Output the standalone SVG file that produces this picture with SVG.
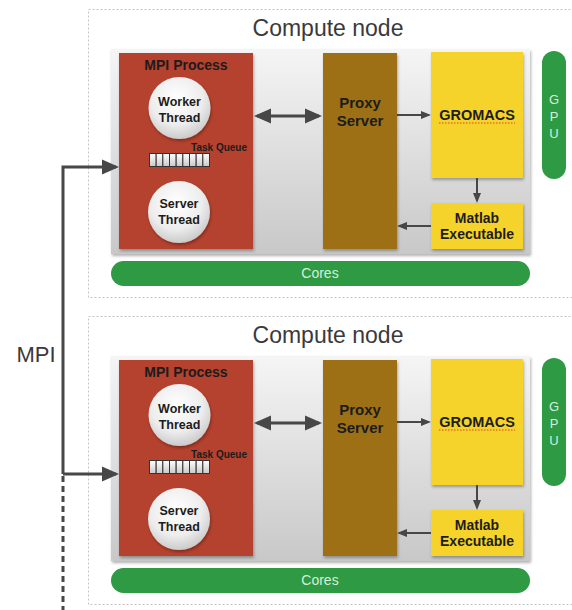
<svg xmlns="http://www.w3.org/2000/svg" width="572" height="610" viewBox="0 0 572 610">
<style>
.frame{fill:#fff;stroke:#c4c4c4;stroke-width:1;stroke-dasharray:2 2}
.title{font-family:"Liberation Sans",Arial,sans-serif;font-size:23px;fill:#3a3a3a;text-anchor:middle}
.panel{fill:url(#panelGrad);filter:url(#sh)}
.mpi{fill:#b5432f;filter:url(#sh)}
.proxy{fill:#9d6f14;filter:url(#sh)}
.yellow{fill:#f6d32b;filter:url(#sh)}
.green{fill:#2e9a44}
.lbl{font-family:"Liberation Sans",Arial,sans-serif;font-weight:bold;fill:#1c1c1c;text-anchor:middle}
.circ{fill:url(#ballGrad);filter:url(#sh)}
.light{font-family:"Liberation Sans",Arial,sans-serif;fill:#d6eedb;text-anchor:middle}
.cell{fill:url(#cellGrad);stroke:#333;stroke-width:1}
.conn{stroke:#474747;fill:none}
.big{stroke-width:3}
.small{stroke-width:2}
</style>
<defs>
<linearGradient id="panelGrad" x1="0" y1="0" x2="0" y2="1">
<stop offset="0" stop-color="#f5f5f5"/>
<stop offset="1" stop-color="#c8c8c8"/>
</linearGradient>
<radialGradient id="ballGrad" cx="0.45" cy="0.35" r="0.7">
<stop offset="0" stop-color="#ffffff"/>
<stop offset="0.6" stop-color="#ededed"/>
<stop offset="1" stop-color="#c4c4c4"/>
</radialGradient>
<linearGradient id="cellGrad" x1="0" y1="0" x2="0" y2="1">
<stop offset="0" stop-color="#ffffff"/>
<stop offset="1" stop-color="#c9c9c9"/>
</linearGradient>
<filter id="sh" x="-10%" y="-10%" width="130%" height="130%">
<feDropShadow dx="1" dy="2" stdDeviation="1.5" flood-color="#000" flood-opacity="0.3"/>
</filter>
<marker id="bigArrow" markerUnits="userSpaceOnUse" markerWidth="17" markerHeight="16" refX="14" refY="8" orient="auto-start-reverse">
<path d="M0,0.5 L17,8 L0,15.5 Z" fill="#474747"/>
</marker>
<marker id="smallArrow" markerUnits="userSpaceOnUse" markerWidth="10" markerHeight="10" refX="8" refY="5" orient="auto-start-reverse">
<path d="M0,1 L10,5 L0,9 Z" fill="#474747"/>
</marker>
</defs>

<g id="compute-node-1">
<rect class="frame" x="88.5" y="9.5" width="490" height="288"/>
<text class="title" x="328" y="36">Compute node</text>
<rect class="panel" x="111" y="49" width="419" height="205"/>
<g id="mpi-process-1">
<rect class="mpi" x="119" y="53" width="134" height="196"/>
<text class="lbl" x="186" y="70" font-size="14">MPI Process</text>
<g id="worker-thread-1">
<circle class="circ" cx="179.5" cy="108" r="31"/>
<text class="lbl" x="179.5" y="106" font-size="12.5">Worker</text>
<text class="lbl" x="179.5" y="121.5" font-size="12.5">Thread</text>
</g>
<g id="task-queue-1">
<text class="lbl" x="247" y="151" font-size="10" text-anchor="end" style="text-anchor:end">Task Queue</text>
<rect class="cell" x="149.5" y="153.5" width="6.67" height="13"/>
<rect class="cell" x="156.17" y="153.5" width="6.67" height="13"/>
<rect class="cell" x="162.83" y="153.5" width="6.67" height="13"/>
<rect class="cell" x="169.5" y="153.5" width="6.67" height="13"/>
<rect class="cell" x="176.17" y="153.5" width="6.67" height="13"/>
<rect class="cell" x="182.83" y="153.5" width="6.67" height="13"/>
<rect class="cell" x="189.5" y="153.5" width="6.67" height="13"/>
<rect class="cell" x="196.17" y="153.5" width="6.67" height="13"/>
<rect class="cell" x="202.83" y="153.5" width="6.67" height="13"/>
</g>
<g id="server-thread-1">
<circle class="circ" cx="179" cy="212" r="31"/>
<text class="lbl" x="179" y="208" font-size="12.5">Server</text>
<text class="lbl" x="179" y="223.5" font-size="12.5">Thread</text>
</g>
</g>
<g id="proxy-server-1">
<rect class="proxy" x="323" y="53" width="74" height="196"/>
<text class="lbl" x="360" y="108" font-size="15">Proxy</text>
<text class="lbl" x="360" y="126" font-size="15">Server</text>
</g>
<g id="gromacs-1">
<rect class="yellow" x="431" y="52" width="92" height="126"/>
<text class="lbl" x="477" y="120" font-size="14.5">GROMACS</text>
<line x1="439" y1="123" x2="515" y2="123" stroke="#e0402a" stroke-width="1" stroke-dasharray="1.5 1.5"/>
</g>
<g id="matlab-1">
<rect class="yellow" x="431" y="203" width="92" height="46"/>
<text class="lbl" x="477" y="223" font-size="14">Matlab</text>
<text class="lbl" x="477" y="239" font-size="14">Executable</text>
</g>
<g id="gpu-1">
<rect class="green" x="542" y="51" width="24" height="128" rx="12"/>
<text class="light" x="554" y="104" font-size="13">G</text>
<text class="light" x="554" y="121" font-size="13">P</text>
<text class="light" x="554" y="138" font-size="13">U</text>
</g>
<g id="cores-1">
<rect class="green" x="111" y="261" width="419" height="25" rx="12.5"/>
<text class="light" x="320" y="278" font-size="14">Cores</text>
</g>
</g>

<g id="compute-node-2" transform="translate(0,307)">
<rect class="frame" x="88.5" y="9.5" width="490" height="288"/>
<text class="title" x="328" y="36">Compute node</text>
<rect class="panel" x="111" y="49" width="419" height="205"/>
<g id="mpi-process-2">
<rect class="mpi" x="119" y="53" width="134" height="196"/>
<text class="lbl" x="186" y="70" font-size="14">MPI Process</text>
<g id="worker-thread-2">
<circle class="circ" cx="179.5" cy="108" r="31"/>
<text class="lbl" x="179.5" y="106" font-size="12.5">Worker</text>
<text class="lbl" x="179.5" y="121.5" font-size="12.5">Thread</text>
</g>
<g id="task-queue-2">
<text class="lbl" x="247" y="151" font-size="10" style="text-anchor:end">Task Queue</text>
<rect class="cell" x="149.5" y="153.5" width="6.67" height="13"/>
<rect class="cell" x="156.17" y="153.5" width="6.67" height="13"/>
<rect class="cell" x="162.83" y="153.5" width="6.67" height="13"/>
<rect class="cell" x="169.5" y="153.5" width="6.67" height="13"/>
<rect class="cell" x="176.17" y="153.5" width="6.67" height="13"/>
<rect class="cell" x="182.83" y="153.5" width="6.67" height="13"/>
<rect class="cell" x="189.5" y="153.5" width="6.67" height="13"/>
<rect class="cell" x="196.17" y="153.5" width="6.67" height="13"/>
<rect class="cell" x="202.83" y="153.5" width="6.67" height="13"/>
</g>
<g id="server-thread-2">
<circle class="circ" cx="179" cy="212" r="31"/>
<text class="lbl" x="179" y="208" font-size="12.5">Server</text>
<text class="lbl" x="179" y="223.5" font-size="12.5">Thread</text>
</g>
</g>
<g id="proxy-server-2">
<rect class="proxy" x="323" y="53" width="74" height="196"/>
<text class="lbl" x="360" y="108" font-size="15">Proxy</text>
<text class="lbl" x="360" y="126" font-size="15">Server</text>
</g>
<g id="gromacs-2">
<rect class="yellow" x="431" y="52" width="92" height="126"/>
<text class="lbl" x="477" y="120" font-size="14.5">GROMACS</text>
<line x1="439" y1="123" x2="515" y2="123" stroke="#e0402a" stroke-width="1" stroke-dasharray="1.5 1.5"/>
</g>
<g id="matlab-2">
<rect class="yellow" x="431" y="203" width="92" height="46"/>
<text class="lbl" x="477" y="223" font-size="14">Matlab</text>
<text class="lbl" x="477" y="239" font-size="14">Executable</text>
</g>
<g id="gpu-2">
<rect class="green" x="542" y="51" width="24" height="128" rx="12"/>
<text class="light" x="554" y="104" font-size="13">G</text>
<text class="light" x="554" y="121" font-size="13">P</text>
<text class="light" x="554" y="138" font-size="13">U</text>
</g>
<g id="cores-2">
<rect class="green" x="111" y="261" width="419" height="25" rx="12.5"/>
<text class="light" x="320" y="278" font-size="14">Cores</text>
</g>
</g>

<g id="connectors">
<line class="conn big" x1="257" y1="116" x2="319" y2="116" marker-start="url(#bigArrow)" marker-end="url(#bigArrow)"/>
<line class="conn small" x1="397" y1="115" x2="429" y2="115" marker-end="url(#smallArrow)"/>
<line class="conn small" x1="477" y1="178" x2="477" y2="201" marker-end="url(#smallArrow)"/>
<line class="conn small" x1="431" y1="226" x2="399" y2="226" marker-end="url(#smallArrow)"/>
<line class="conn big" x1="257" y1="423" x2="319" y2="423" marker-start="url(#bigArrow)" marker-end="url(#bigArrow)"/>
<line class="conn small" x1="397" y1="422" x2="429" y2="422" marker-end="url(#smallArrow)"/>
<line class="conn small" x1="477" y1="485" x2="477" y2="508" marker-end="url(#smallArrow)"/>
<line class="conn small" x1="431" y1="533" x2="399" y2="533" marker-end="url(#smallArrow)"/>
<path class="conn big" d="M63,474 V167 H116" marker-end="url(#bigArrow)"/>
<path class="conn big" d="M63,474 H116" marker-end="url(#bigArrow)"/>
<path class="conn big" d="M63,476 V610" stroke-dasharray="6 4"/>
<text x="36" y="362" font-family="Liberation Sans, Arial, sans-serif" font-size="22" fill="#3a3a3a" text-anchor="middle">MPI</text>
</g>
</svg>
